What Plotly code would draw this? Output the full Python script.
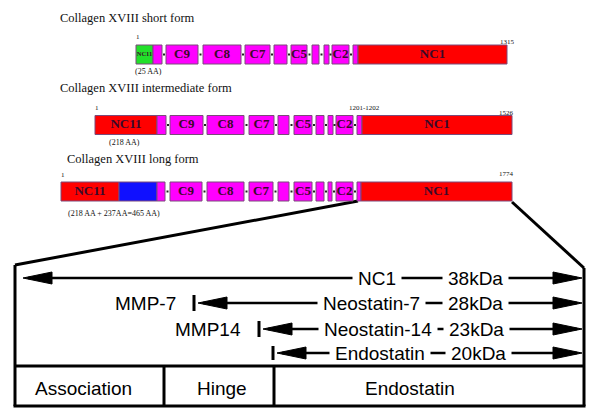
import plotly.graph_objects as go

# ---------------- data ----------------
# Three collagen XVIII isoforms: domain names, colours, start / end (diagram units)
form_titles = ["Collagen XVIII short form", "Collagen XVIII intermediate form", "Collagen XVIII long form"]
form_rows = [54.5, 125, 191.5]

short_labels = ["NC11", "", "C9", "C8", "C7", "", "C5", "", "", "C2", "", "NC1"]
short_colors = ["g", "m", "m", "m", "m", "m", "m", "m", "m", "m", "m", "r"]
short_start = [136, 153, 166, 203, 245, 274, 291, 312, 324, 332, 353, 358]
short_end = [153, 162, 198, 241, 270, 287, 307, 319, 329, 349, 358, 507]

inter_labels = ["NC11", "", "C9", "C8", "C7", "", "C5", "", "", "C2", "", "NC1"]
inter_colors = ["r", "m", "m", "m", "m", "m", "m", "m", "m", "m", "m", "r"]
inter_start = [95, 157, 170, 207, 249, 278, 294, 316, 328, 336, 357, 362]
inter_end = [157, 166, 203, 244, 274, 289, 312, 324, 333, 353, 362, 512]

long_labels = ["NC11", "", "", "C9", "C8", "C7", "", "C5", "", "", "C2", "", "NC1"]
long_colors = ["r", "b", "m", "m", "m", "m", "m", "m", "m", "m", "m", "m", "r"]
long_start = [61, 119, 157, 170, 207, 249, 278, 294, 316, 328, 336, 357, 361]
long_end = [119, 157, 165, 202, 244, 273, 289, 312, 324, 332, 353, 361, 512]

residue_labels = ["1", "1315", "1", "1201-1202", "1526", "1", "1774"]
size_notes = ["(25 AA)", "(218 AA)", "(218 AA + 237AA=465 AA)"]

# NC1 fragments (lower panel)
frag_names = ["NC1", "Neostatin-7", "Neostatin-14", "Endostatin"]
frag_kda = ["38kDa", "28kDa", "23kDa", "20kDa"]
frag_protease = ["", "MMP-7", "MMP14", ""]
frag_start = [23, 198, 263, 277]
frag_end = [582, 582, 582, 582]
frag_rows = [278, 303, 329, 353]
region_names = ["Association", "Hinge", "Endostatin"]
region_bounds = [15, 164, 274, 584]

# ---------------- styling ----------------
COL = {"g": "#22e02a", "m": "#ff00ff", "r": "#ff0000", "b": "#1010ff"}
SERIF = "Liberation Serif, Times New Roman, serif"
SANS = "Liberation Sans, Arial, sans-serif"

fig = go.Figure()
shapes = []
annotations = []

forms = [
    (short_labels, short_colors, short_start, short_end),
    (inter_labels, inter_colors, inter_start, inter_end),
    (long_labels, long_colors, long_start, long_end),
]
BAR_H = 19
for (labels, cols, st, en), yrow in zip(forms, form_rows):
    fig.add_trace(go.Bar(
        orientation="h",
        y=[yrow] * len(st),
        x=[e - s for s, e in zip(st, en)],
        base=st,
        width=BAR_H,
        marker=dict(color=[COL[c] for c in cols], line=dict(color="#7a4a7a", width=1)),
        hoverinfo="skip",
        showlegend=False,
    ))
    # dots in the gaps between domains
    gx = [(en[i] + st[i + 1]) / 2 for i in range(len(st) - 1) if st[i + 1] - en[i] > 1]
    fig.add_trace(go.Scatter(
        x=gx, y=[yrow] * len(gx), mode="markers",
        marker=dict(symbol="square", size=2, color="#222"),
        hoverinfo="skip", showlegend=False,
    ))
    # domain labels
    tx, ty, tt, ts = [], [], [], []
    for lab, s, e in zip(labels, st, en):
        if lab:
            tx.append((s + e) / 2)
            ty.append(yrow)
            tt.append("<b>%s</b>" % lab)
            ts.append(6.5 if (len(lab) > 2 and (e - s) < 25) else 13)
    fig.add_trace(go.Scatter(
        x=tx, y=ty, text=tt, mode="text",
        textfont=dict(family=SERIF, size=ts, color="#3a0a2a"),
        hoverinfo="skip", showlegend=False,
    ))

# titles
title_pos = [(58, 18), (58, 88), (65, 159)]
for t, (x, y) in zip(form_titles, title_pos):
    annotations.append(dict(x=x, y=y, text=t, showarrow=False, xanchor="left", yanchor="middle",
                            font=dict(family=SERIF, size=12.5, color="#111")))

res_pos = [(138, 37), (507, 42), (97, 108), (364, 108), (506, 113), (63, 175), (506, 174)]
for t, (x, y) in zip(residue_labels, res_pos):
    annotations.append(dict(x=x, y=y, text=t, showarrow=False, xanchor="center", yanchor="middle",
                            font=dict(family=SERIF, size=7, color="#111")))

note_pos = [(133, 71), (107, 142), (66, 213)]
for t, (x, y) in zip(size_notes, note_pos):
    annotations.append(dict(x=x, y=y, text=t, showarrow=False, xanchor="left", yanchor="middle",
                            font=dict(family=SERIF, size=8, color="#111")))

# ---------------- lower panel ----------------
LW = 3
def line(x0, y0, x1, y1, w=LW):
    shapes.append(dict(type="line", x0=x0, y0=y0, x1=x1, y1=y1, xref="x", yref="y",
                       line=dict(color="black", width=w), layer="below"))

b0, b1, b2, b3 = region_bounds
# zoom lines from the long form NC1 domain
line(long_start[-1] - 3, form_rows[2] + BAR_H / 2, b0, 265)
line(long_end[-1], form_rows[2] + BAR_H / 2 + 1, b3, 268)
line(b0, 265, b0, 406)
line(b3, 268, b3, 406)
line(b0 - 1.5, 406, b3 + 1.5, 406)
line(b0, 366, b3, 366)
line(b1, 366, b1, 406)
line(b2, 366, b2, 406)

region_centers = [83, 222, 410]
for t, x in zip(region_names, region_centers):
    annotations.append(dict(x=x, y=388, text=t, showarrow=False, xanchor="center", yanchor="middle",
                            font=dict(family=SANS, size=19, color="black")))

HEAD_L, HEAD_W = 29, 6
def head(xtip, y, direction):
    xb = xtip - direction * HEAD_L
    shapes.append(dict(type="path", xref="x", yref="y",
                       path="M %g %g L %g %g L %g %g Z" % (xtip, y, xb, y - HEAD_W, xb, y + HEAD_W),
                       fillcolor="black", line=dict(color="black", width=1), layer="above"))

name_centers = [376.5, 371, 378, 380]
kda_centers = [475, 475.5, 476.5, 478]
masks = []
texts = []
for i in range(len(frag_names)):
    y = frag_rows[i]
    x0, x1 = frag_start[i], frag_end[i]
    line(x0 + 5, y, x1 - 5, y, w=2.5)
    head(x0, y, -1)
    head(x1, y, 1)
    if frag_protease[i]:
        line(x0 - 4, y - 8, x0 - 4, y + 8)
    for txt, cx in ((frag_names[i], name_centers[i]), (frag_kda[i], kda_centers[i])):
        # white mask that interrupts the arrow line around the label
        masks.append(dict(x=cx, y=y, text=txt, showarrow=False, xanchor="center", yanchor="middle",
                          bgcolor="white", borderpad=5, height=6,
                          font=dict(family=SANS, size=19, color="white")))
        texts.append(dict(x=cx, y=y, text=txt, showarrow=False, xanchor="center", yanchor="middle",
                          font=dict(family=SANS, size=19, color="black")))
    if frag_protease[i]:
        texts.append(dict(x=x0 - 20, y=y, text=frag_protease[i], showarrow=False,
                          xanchor="right", yanchor="middle",
                          font=dict(family=SANS, size=19, color="black")))
annotations = annotations + masks + texts
# cleavage bar for endostatin arrow
line(frag_start[3] - 4, frag_rows[3] - 7, frag_start[3] - 4, frag_rows[3] + 7)

fig.update_layout(
    width=600, height=420,
    margin=dict(l=0, r=0, t=0, b=0),
    paper_bgcolor="white", plot_bgcolor="white",
    xaxis=dict(range=[0, 600], visible=False, fixedrange=True),
    yaxis=dict(range=[420, 0], visible=False, fixedrange=True),
    barmode="overlay",
    shapes=shapes,
    annotations=annotations,
    showlegend=False,
)
fig.write_html(
    "out.html",
    config={"displayModeBar": False},
    post_script="document.body.style.margin='0';document.body.style.overflow='hidden';",
)
